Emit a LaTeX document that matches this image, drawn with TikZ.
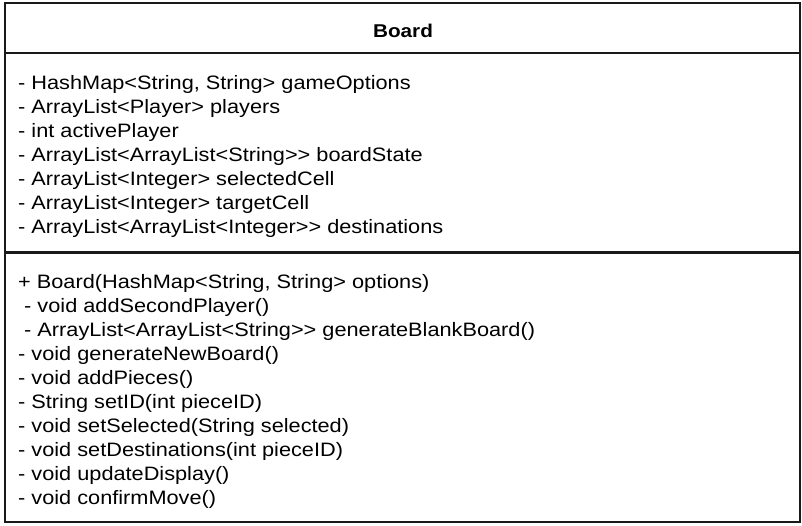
\documentclass[tikz,border=0pt]{standalone}
\usepackage{fontspec}
\setmainfont{Liberation Sans}[FakeStretch=1.12, Ligatures=TeXOff]
\usetikzlibrary{positioning}
\tikzset
{
    classbox/.style = {rectangle, draw=black!90, line width=2.8pt, fill=white, minimum width=795pt, minimum height=519pt, anchor=north west, inner sep=0pt, outer sep=0pt},
    titletext/.style = {font=\fontsize{18.5}{22}\selectfont\bfseries, anchor=base, inner sep=0pt},
    membertext/.style = {font=\fontsize{19.4}{24}\selectfont, anchor=base west, inner sep=0pt},
    divider/.style = {draw=black!90, line width=2.8pt}
}

\begin{document}
\begin{tikzpicture}[x=1pt, y=-1pt]
	\useasboundingbox (0,0) rectangle (802,526);
	\node[classbox] (board) at (5,3) {};
	\node[titletext] (title) at (403,37.6) {Board};
	% compartment dividers
	\coordinate (cut1) at (0,53);
	\coordinate (cut2) at (0,252.5);
	\draw[divider] (board.west |- cut1) -- (board.east |- cut1);
	\draw[divider] (board.west |- cut2) -- (board.east |- cut2);
	% attributes
	\foreach \txt [count=\i] in {
		{- HashMap<String, String> gameOptions},
		{- ArrayList<Player> players},
		{- int activePlayer},
		{- ArrayList<ArrayList<String>> boardState},
		{- ArrayList<Integer> selectedCell},
		{- ArrayList<Integer> targetCell},
		{- ArrayList<ArrayList<Integer>> destinations}}
		\node[membertext] (attr\i) at (18,{89.3+24.1*(\i-1)}) {\txt};
	% methods
	\foreach \txt [count=\i] in {
		{+ Board(HashMap<String, String> options)},
		{\ - void addSecondPlayer()},
		{\ - ArrayList<ArrayList<String>> generateBlankBoard()},
		{- void generateNewBoard()},
		{- void addPieces()},
		{- String setID(int pieceID)},
		{- void setSelected(String selected)},
		{- void setDestinations(int pieceID)},
		{- void updateDisplay()},
		{- void confirmMove()}}
		\node[membertext] (meth\i) at (18,{288+24*(\i-1)}) {\txt};
\end{tikzpicture}
\end{document}
